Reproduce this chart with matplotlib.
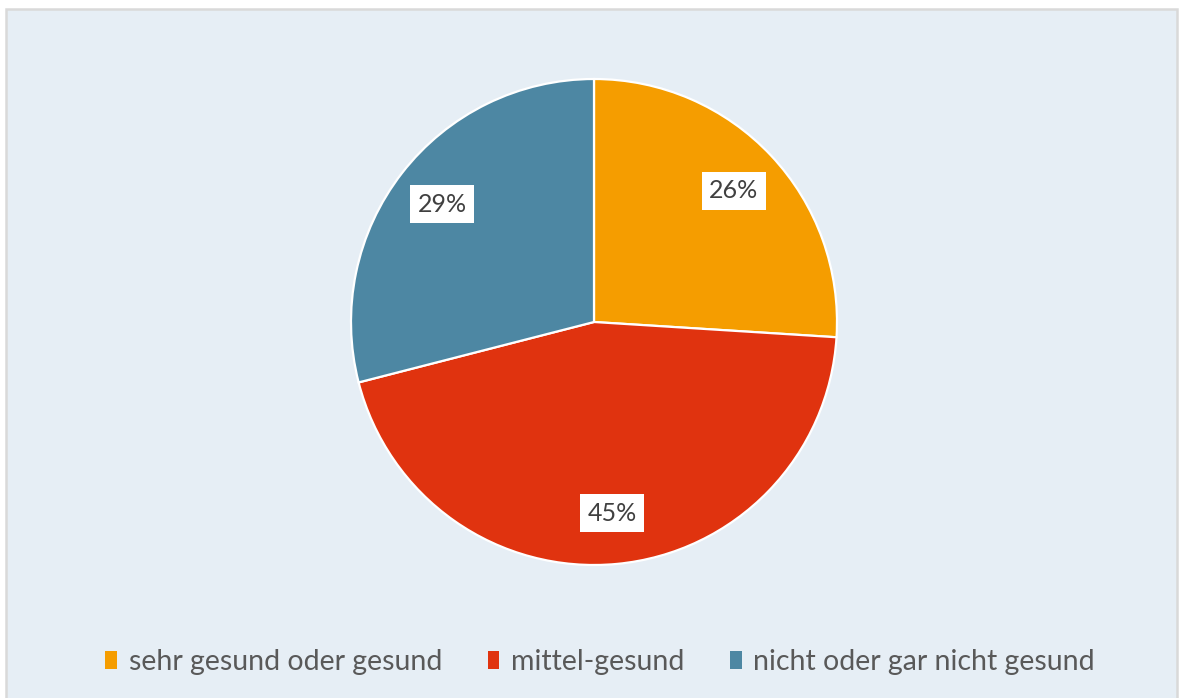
import matplotlib.pyplot as plt
from matplotlib.patches import Rectangle

# data
labels = ['sehr gesund oder gesund', 'mittel-gesund', 'nicht oder gar nicht gesund']
shares = [26, 45, 29]
colors = ['#F59D00', '#E0330F', '#4D87A3']

W, H = 1179, 698
plt.rcParams['font.family'] = ['Lato', 'DejaVu Sans']
fig = plt.figure(figsize=(W / 100, H / 100), dpi=100)
fig.patch.set_facecolor('white')

# chart area with grey frame
fig.patches.append(Rectangle((6 / W, -0.05), 1171 / W, 1 - 9 / H + 0.05,
                             transform=fig.transFigure, facecolor='#E6EEF5',
                             edgecolor='#D9D9D9', linewidth=1.8, zorder=-1))

cx, cy, r = 594, H - 322, 243
ax = fig.add_axes([(cx - r) / W, (cy - r) / H, 2 * r / W, 2 * r / H])
ax.set_zorder(1)
wedges, texts, autotexts = ax.pie(shares, colors=colors, startangle=90, counterclock=False,
                                  autopct='%d%%', pctdistance=0.79,
                                  wedgeprops=dict(edgecolor='white', linewidth=1.6))
for t in autotexts:
    t.set_fontsize(18)
    t.set_color('#404040')
    t.set_bbox(dict(facecolor='white', edgecolor='none', boxstyle='square,pad=0.3'))
ax.set_xlim(-1, 1)
ax.set_ylim(-1, 1)
ax.set_aspect('equal')

leg = fig.legend(wedges, labels, loc='center', bbox_to_anchor=(600 / W, 1 - 662 / H), ncol=3,
                 frameon=False, fontsize=20.5, handlelength=0.42, handleheight=0.6,
                 handletextpad=0.4, columnspacing=1.6, labelcolor='#595959')
for h in leg.legend_handles:
    h.set_edgecolor('none')
leg.set_zorder(2)

fig.savefig('out.png', dpi=100)
